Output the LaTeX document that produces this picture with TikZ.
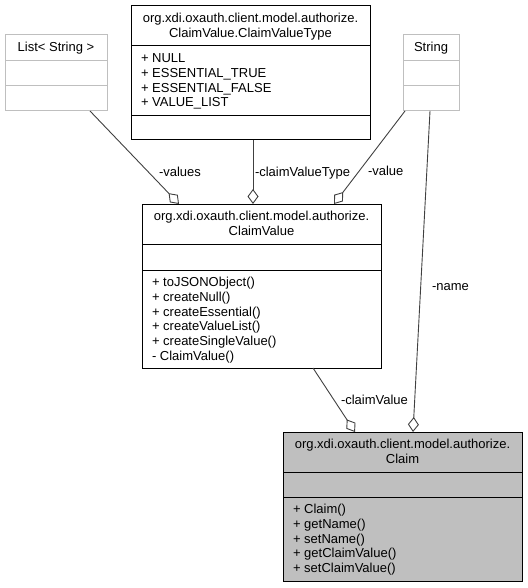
\documentclass[tikz,border=0pt]{standalone}
\usepackage{fontspec}
\setmainfont{Liberation Sans}
\usetikzlibrary{arrows.meta}
\definecolor{extgray}{RGB}{191,191,191}
\definecolor{edgegray}{RGB}{64,64,64}
\definecolor{claimfill}{RGB}{191,191,191}
\newcommand\umlfont{\fontsize{13pt}{14.7pt}\selectfont}
\begin{document}
\begin{tikzpicture}[x=1pt,y=-1pt,
  classbox/.style={draw=black, fill=white, line width=1pt, inner sep=0pt, outer sep=0pt, anchor=north west},
  extbox/.style={classbox, draw=extgray},
  curbox/.style={classbox, fill=claimfill},
  divider/.style={draw=black, line width=1pt},
  extdivider/.style={draw=extgray, line width=1pt},
  ttl/.style={inner sep=0pt, outer sep=0pt, anchor=base, font=\umlfont, text=black},
  mem/.style={inner sep=0pt, outer sep=0pt, anchor=base west, font=\umlfont, text=black},
  elabel/.style={inner sep=0pt, outer sep=0pt, anchor=base west, font=\umlfont, text=black},
  aggr/.style={draw=edgegray, line width=0.9pt, -{Diamond[length=15pt, width=11pt, fill=white, line width=0.9pt]}}
]
\useasboundingbox (0,0) rectangle (527,588);

% ---- List< String > ----
\node[extbox, minimum width=102pt, minimum height=76pt] (list) at (5,35) {};
\draw[extdivider] ([yshift=-26pt]list.north west) -- ([yshift=-26pt]list.north east);
\draw[extdivider] ([yshift=-51pt]list.north west) -- ([yshift=-51pt]list.north east);
\node[ttl] (listt) at (56,51.7) {List< String >};

% ---- String ----
\node[extbox, minimum width=56pt, minimum height=76pt] (str) at (403,35) {};
\draw[extdivider] ([yshift=-26pt]str.north west) -- ([yshift=-26pt]str.north east);
\draw[extdivider] ([yshift=-51pt]str.north west) -- ([yshift=-51pt]str.north east);
\node[ttl] (strt) at (431,51.7) {String};

% ---- ClaimValueType ----
\node[classbox, minimum width=239pt, minimum height=134pt] (cvt) at (131,6) {};
\draw[divider] ([yshift=-40pt]cvt.north west) -- ([yshift=-40pt]cvt.north east);
\draw[divider] ([yshift=-110pt]cvt.north west) -- ([yshift=-110pt]cvt.north east);
\node[ttl] (cvtt1) at (250.5,22.7) {org.xdi.oxauth.client.model.authorize.};
\node[ttl] (cvtt2) at (250.5,37.4) {ClaimValue.ClaimValueType};
\node[mem] (cvta1) at (141,62.7) {+ NULL};
\node[mem] (cvta2) at (141,77.4) {+ ESSENTIAL\_TRUE};
\node[mem] (cvta3) at (141,92.1) {+ ESSENTIAL\_FALSE};
\node[mem] (cvta4) at (141,106.8) {+ VALUE\_LIST};

% ---- ClaimValue ----
\node[classbox, minimum width=239pt, minimum height=164pt] (cv) at (142,204) {};
\draw[divider] ([yshift=-40pt]cv.north west) -- ([yshift=-40pt]cv.north east);
\draw[divider] ([yshift=-66pt]cv.north west) -- ([yshift=-66pt]cv.north east);
\node[ttl] (cvt1) at (261.5,220.7) {org.xdi.oxauth.client.model.authorize.};
\node[ttl] (cvt2) at (261.5,235.4) {ClaimValue};
\node[mem] (cvm1) at (152,286.7) {+ toJSONObject()};
\node[mem] (cvm2) at (152,301.4) {+ createNull()};
\node[mem] (cvm3) at (152,316.1) {+ createEssential()};
\node[mem] (cvm4) at (152,330.8) {+ createValueList()};
\node[mem] (cvm5) at (152,345.5) {+ createSingleValue()};
\node[mem] (cvm6) at (152,360.2) {- ClaimValue()};

% ---- Claim ----
\node[curbox, minimum width=239pt, minimum height=149pt] (claim) at (283,432) {};
\draw[divider] ([yshift=-40pt]claim.north west) -- ([yshift=-40pt]claim.north east);
\draw[divider] ([yshift=-65pt]claim.north west) -- ([yshift=-65pt]claim.north east);
\node[ttl] (clt1) at (402.5,448.7) {org.xdi.oxauth.client.model.authorize.};
\node[ttl] (clt2) at (402.5,463.4) {Claim};
\node[mem] (clm1) at (293,513.7) {+ Claim()};
\node[mem] (clm2) at (293,528.4) {+ getName()};
\node[mem] (clm3) at (293,543.1) {+ setName()};
\node[mem] (clm4) at (293,557.8) {+ getClaimValue()};
\node[mem] (clm5) at (293,572.5) {+ setClaimValue()};

% ---- connectors ----
\draw[aggr] ([xshift=85pt]list.south west) -- ([xshift=37pt]cv.north west);
\draw[aggr] ([xshift=122pt]cvt.south west) -- ([xshift=111pt]cv.north west);
\draw[aggr] ([xshift=2pt]str.south west) -- ([xshift=192pt]cv.north west);
\draw[aggr] ([xshift=27pt]str.south west) -- ([xshift=130pt]claim.north west);
\draw[aggr] ([xshift=171pt]cv.south west) -- ([xshift=72pt]claim.north west);

% ---- labels ----
\node[elabel] (lvalues) at (159,176.5) {-values};
\node[elabel] (lcvt) at (255,176.5) {-claimValueType};
\node[elabel] (lvalue) at (368,175.7) {-value};
\node[elabel] (lcv) at (341,404.5) {-claimValue};
\node[elabel] (lname) at (432,290.5) {-name};
\end{tikzpicture}
\end{document}
